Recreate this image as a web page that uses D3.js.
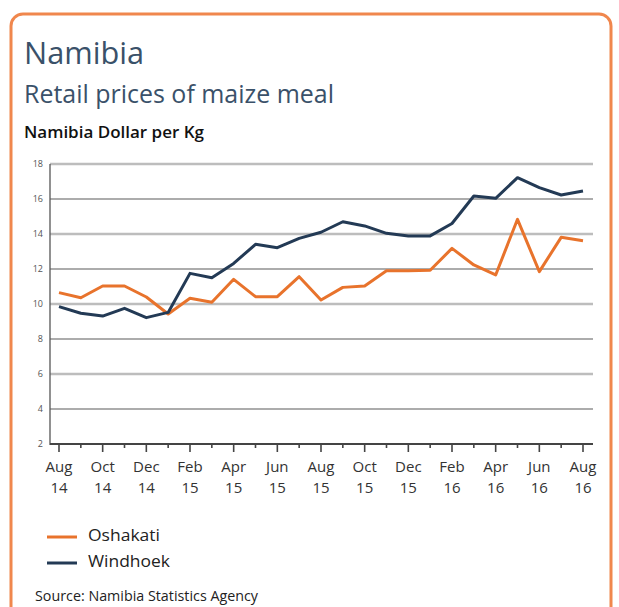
<!DOCTYPE html>
<html><head><meta charset="utf-8">
<script src="https://cdn.jsdelivr.net/npm/d3@7"></script>
<style>body{margin:0;background:#fff}svg{display:block}</style>
</head><body>
<svg id="c" width="619" height="607"></svg>
<script>
const months = ["Aug 14","Sep 14","Oct 14","Nov 14","Dec 14","Jan 15","Feb 15","Mar 15","Apr 15","May 15","Jun 15","Jul 15","Aug 15","Sep 15","Oct 15","Nov 15","Dec 15","Jan 16","Feb 16","Mar 16","Apr 16","May 16","Jun 16","Jul 16","Aug 16"];
const oshakati = [10.65,10.36,11.03,11.03,10.4,9.43,10.33,10.1,11.41,10.42,10.42,11.56,10.23,10.95,11.03,11.9,11.9,11.93,13.18,12.23,11.66,14.84,11.85,13.81,13.62];
const windhoek = [9.85,9.47,9.31,9.75,9.22,9.52,11.75,11.5,12.32,13.41,13.22,13.75,14.1,14.7,14.46,14.04,13.89,13.89,14.6,16.17,16.04,17.22,16.65,16.23,16.46];
const yTicks = [2,4,6,8,10,12,14,16,18];
const seriesNames = ["Oshakati","Windhoek"];
const colors = {"Oshakati":"#e8732c","Windhoek":"#233a55"};

const svg = d3.select("#c");
const font = "'Open Sans', 'Noto Sans', sans-serif";

// frame
svg.append("rect").attr("x",11).attr("y",14).attr("width",600).attr("height",620)
  .attr("rx",12).attr("fill","#fff").attr("stroke","#f0874d").attr("stroke-width",3);

function txt(s, x0, y0, size, color, width, weight){
  const t = svg.append("text").attr("x",x0).attr("y",y0).text(s)
    .attr("font-family",font).attr("font-size",size).attr("fill",color);
  if (weight) t.attr("font-weight",weight);
  if (width) t.attr("textLength",width).attr("lengthAdjust","spacingAndGlyphs");
  return t;
}
txt("Namibia",24,64,31,"#3a5169",120);
txt("Retail prices of maize meal",24,103,25,"#3a5169",310);
txt("Namibia Dollar per Kg",24,138,16,"#111",180,600);

const x = d3.scaleLinear().domain([0, months.length-1]).range([59,583]);
const y = d3.scaleLinear().domain([2,18]).range([444,164]);
const left = 50, right = 593;

// gridlines
yTicks.filter(t=>t>2).forEach(t=>{
  const thick = (t % 4) === 2;
  svg.append("line").attr("x1",left).attr("x2",right).attr("y1",y(t)).attr("y2",y(t))
    .attr("stroke", thick ? "#bdbdbd" : "#5a5a5a").attr("stroke-width", thick ? 2.6 : 1.1);
});

// y labels
svg.append("g").selectAll("text").data(yTicks).join("text")
  .attr("x",43).attr("y",d=>y(d)+3).attr("text-anchor","end")
  .attr("font-family",font).attr("font-size",9).attr("fill","#555").text(d=>d);

// axes lines
svg.append("line").attr("x1",left).attr("x2",left).attr("y1",164).attr("y2",445)
  .attr("stroke","#555").attr("stroke-width",1.3);
svg.append("line").attr("x1",left).attr("x2",right).attr("y1",444).attr("y2",444)
  .attr("stroke","#444").attr("stroke-width",2.2);

// x ticks
svg.append("g").selectAll("line").data(months).join("line")
  .attr("x1",(d,i)=>x(i)).attr("x2",(d,i)=>x(i))
  .attr("y1",444).attr("y2",(d,i)=> i%2===0 ? 452 : 448)
  .attr("stroke","#444").attr("stroke-width",1.6);

// x labels
const lab = svg.append("g").selectAll("text").data(months.map((m,i)=>({m,i})).filter(d=>d.i%2===0)).join("text")
  .attr("text-anchor","middle").attr("font-family",font).attr("font-size",15).attr("fill","#333");
lab.append("tspan").attr("x",d=>x(d.i)).attr("y",472).text(d=>d.m.split(" ")[0]);
lab.append("tspan").attr("x",d=>x(d.i)).attr("y",493).text(d=>d.m.split(" ")[1]);

// lines
const line = d3.line().x((d,i)=>x(i)).y(d=>y(d));
[["Oshakati",oshakati],["Windhoek",windhoek]].forEach(([n,data])=>{
  svg.append("path").datum(data).attr("d",line).attr("fill","none")
    .attr("stroke",colors[n]).attr("stroke-width",3).attr("stroke-linejoin","round");
});

// legend
seriesNames.forEach((n,i)=>{
  const ly = 537 + i*26;
  svg.append("line").attr("x1",47).attr("x2",77).attr("y1",ly).attr("y2",ly)
    .attr("stroke",colors[n]).attr("stroke-width",3);
  txt(n, 88, ly+4, 15.5, "#222", i===0 ? 72 : 82);
});

txt("Source: Namibia Statistics Agency",35,601,14,"#222",223);
</script>
</body></html>
